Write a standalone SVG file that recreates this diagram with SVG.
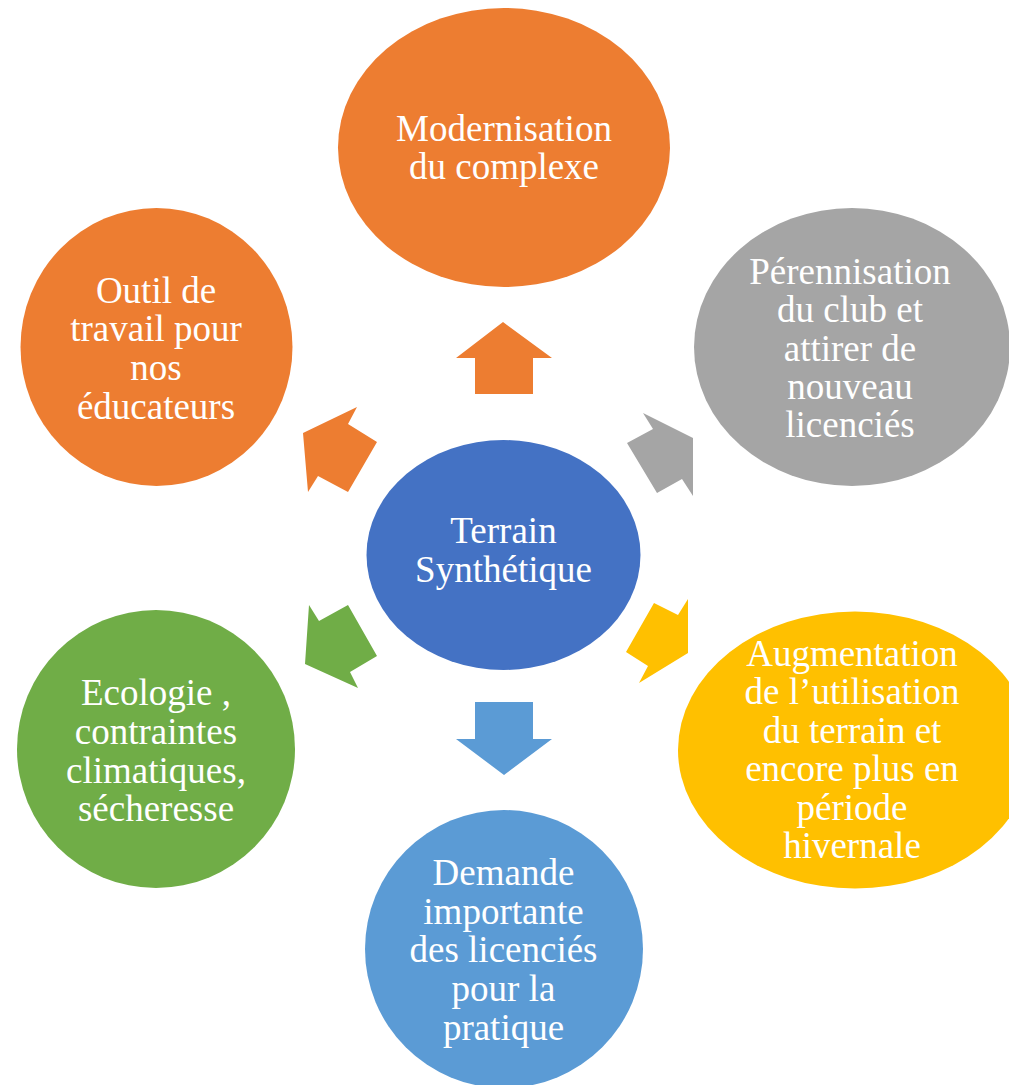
<svg xmlns="http://www.w3.org/2000/svg" width="1009" height="1085" viewBox="0 0 1009 1085">
<style>
text{font-family:"Liberation Serif","Times New Roman",serif;font-size:37px;fill:#ffffff;text-anchor:middle}
.orange{fill:#ED7D31}.grey{fill:#A5A5A5}.yellow{fill:#FFC000}.lblue{fill:#5B9BD5}.green{fill:#70AD47}.blue{fill:#4472C4}
</style>
<rect width="1009" height="1085" fill="#ffffff"/>
<g id="connectors">
<polygon class="orange" points="503,322 552,358 533,358 533,394 475,394 475,358 456,358"/>
<polygon class="grey" points="643,413 693,438 693,496 682,479 657,493 627,443 653,429"/>
<polygon class="yellow" points="654,603 678,615 688,599 688,653 639,683 648,666 626,652"/>
<polygon class="lblue" points="475,702 533,702 533,739 552,739 504,775 456,739 475,739"/>
<polygon class="green" points="348,605 377,656 350,672 358,688 305,664 309,605 319,621"/>
<polygon class="orange" points="303,433 357,407 348,424 377,442 348,492 318,476 308,492"/>
</g>
<g id="node-center">
<ellipse class="blue" cx="503.5" cy="555" rx="137" ry="115"/>
<text x="503.5" y="543">Terrain</text>
<text x="503.5" y="582">Synthétique</text>
</g>
<g id="node-top">
<ellipse class="orange" cx="504" cy="147.5" rx="166" ry="139.5"/>
<text x="504" y="141">Modernisation</text>
<text x="504" y="179">du complexe</text>
</g>
<g id="node-upper-right">
<ellipse class="grey" cx="852" cy="347" rx="158" ry="139"/>
<text x="850" y="284">Pérennisation</text>
<text x="850" y="322">du club et</text>
<text x="850" y="361">attirer de</text>
<text x="850" y="399">nouveau</text>
<text x="850" y="437">licenciés</text>
</g>
<g id="node-lower-right">
<ellipse class="yellow" cx="855" cy="750" rx="177" ry="138.5"/>
<text x="852" y="666">Augmentation</text>
<text x="852" y="704">de l’utilisation</text>
<text x="852" y="743">du terrain et</text>
<text x="852" y="781">encore plus en</text>
<text x="852" y="820">période</text>
<text x="852" y="858">hivernale</text>
</g>
<g id="node-bottom">
<ellipse class="lblue" cx="504" cy="949" rx="139" ry="139"/>
<text x="503.5" y="885">Demande</text>
<text x="503.5" y="924">importante</text>
<text x="503.5" y="962">des licenciés</text>
<text x="503.5" y="1001">pour la</text>
<text x="503.5" y="1040">pratique</text>
</g>
<g id="node-lower-left">
<ellipse class="green" cx="156" cy="749" rx="139" ry="139"/>
<text x="156" y="705">Ecologie ,</text>
<text x="156" y="744">contraintes</text>
<text x="156" y="783">climatiques,</text>
<text x="156" y="821">sécheresse</text>
</g>
<g id="node-upper-left">
<ellipse class="orange" cx="156.5" cy="347" rx="136" ry="139"/>
<text x="156" y="303">Outil de</text>
<text x="156" y="341">travail pour</text>
<text x="156" y="380">nos</text>
<text x="156" y="419">éducateurs</text>
</g>
</svg>
